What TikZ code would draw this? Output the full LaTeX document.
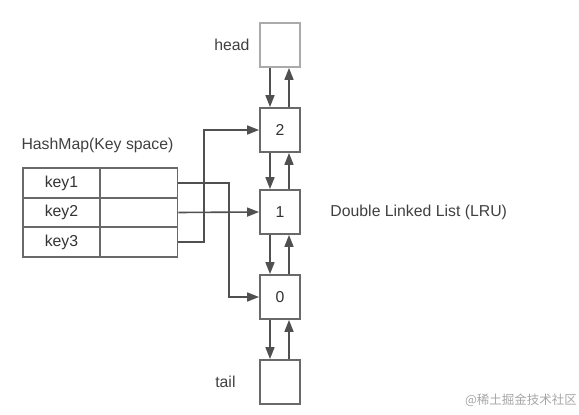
\documentclass[tikz,border=0pt]{standalone}
\usepackage{fontspec}
\setmainfont{Liberation Sans}
\newfontfamily\cjkfont{Noto Sans CJK SC}
\usetikzlibrary{positioning,arrows.meta}
\definecolor{BoxGray}{RGB}{105,105,105}
\definecolor{LinkGray}{RGB}{80,80,80}
\definecolor{HeadGray}{RGB}{170,170,170}

\begin{document}
\begin{tikzpicture}[
    x=1pt, y=-1pt,
    font=\fontsize{15.8}{18}\selectfont,
    lbox/.style={
        draw=BoxGray,
        line width=1.9pt,
        minimum width=40pt,
        minimum height=44pt,
        inner sep=0pt,
        text=black!80
    },
    cell/.style={
        draw=BoxGray,
        line width=1.7pt,
        minimum width=77pt,
        minimum height=29.5pt,
        inner sep=0pt,
        text=black!80
    },
    link/.style={
        draw=LinkGray,
        line width=1.6pt,
        -{Triangle[length=12pt,width=9pt]}
    }
]
\useasboundingbox (0,0) rectangle (579,415);

% linked list
\node[lbox, draw=HeadGray] (head) at (280,45) {};
\node[lbox] (n2) at (280,130) {2};
\node[lbox] (n1) at (280,212) {1};
\node[lbox] (n0) at (280,297) {0};
\node[lbox] (tail) at (280,382) {};

\node[left=6pt of head, text=black!75] (headlbl) {head};
\node[left=20pt of tail, text=black!75] (taillbl) {tail};
\node[right=26pt of n1, text=black!75] (listlbl) {Double Linked List (LRU)};

% hashmap
\node[cell] (k1) at (61.5,183) {key1};
\node[cell] (v1) at (139,183) {};
\node[cell] (k2) at (61.5,212.5) {key2};
\node[cell] (v2) at (139,212.5) {};
\node[cell] (k3) at (61.5,242) {key3};
\node[cell] (v3) at (139,242) {};
\node[anchor=west, text=black!75] (maplbl) at (18,145) {HashMap(Key space)};

% prev / next
\foreach \a/\b in {head/n2, n2/n1, n1/n0, n0/tail} {
    \draw[link] ([xshift=-10pt]\a.south) -- ([xshift=-10pt]\b.north);
    \draw[link] ([xshift=9pt]\b.north) -- ([xshift=9pt]\a.south);
}

% keys to nodes
\draw[link] (v1.east) -| ([xshift=-30pt]n0.west) -- (n0.west);
\draw[link] (v2.east) -- (n1.west);
\draw[link] (v3.east) -| ([xshift=-55pt]n2.west) -- (n2.west);

\node[text=black!35, font=\cjkfont\fontsize{12.5}{14}\selectfont] (mark) at (521,400) {@稀土掘金技术社区};
\end{tikzpicture}
\end{document}
